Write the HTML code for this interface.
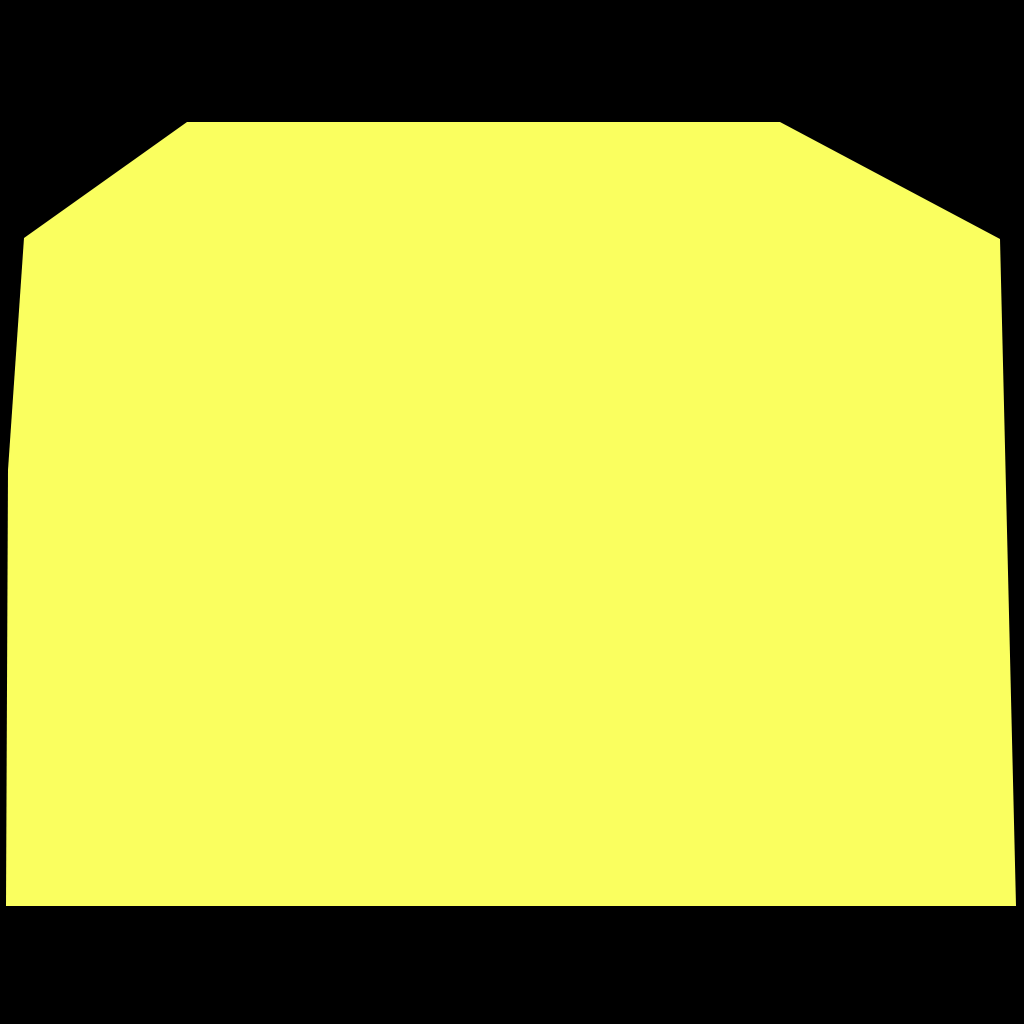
<!DOCTYPE html>
<html>
<head>
<meta charset="utf-8">
<style>
  html, body { margin: 0; padding: 0; background: #000; }
  svg { display: block; }
</style>
</head>
<body>
<svg id="chart" width="1024" height="1024" viewBox="0 0 1024 1024">
  <rect x="0" y="0" width="1024" height="1024" fill="#000"></rect>
</svg>
<script>
const vertexX = [187, 780, 1000, 1016, 6, 8, 24];
const vertexY = [122, 122, 239, 906, 906, 470, 238];

const svg = document.getElementById('chart');
const pts = vertexX.map((x, i) => x + ',' + vertexY[i]).join(' ');
const poly = document.createElementNS('http://www.w3.org/2000/svg', 'polygon');
poly.setAttribute('points', pts);
poly.setAttribute('fill', '#faff5f');


svg.appendChild(poly);
</script>
</body>
</html>
